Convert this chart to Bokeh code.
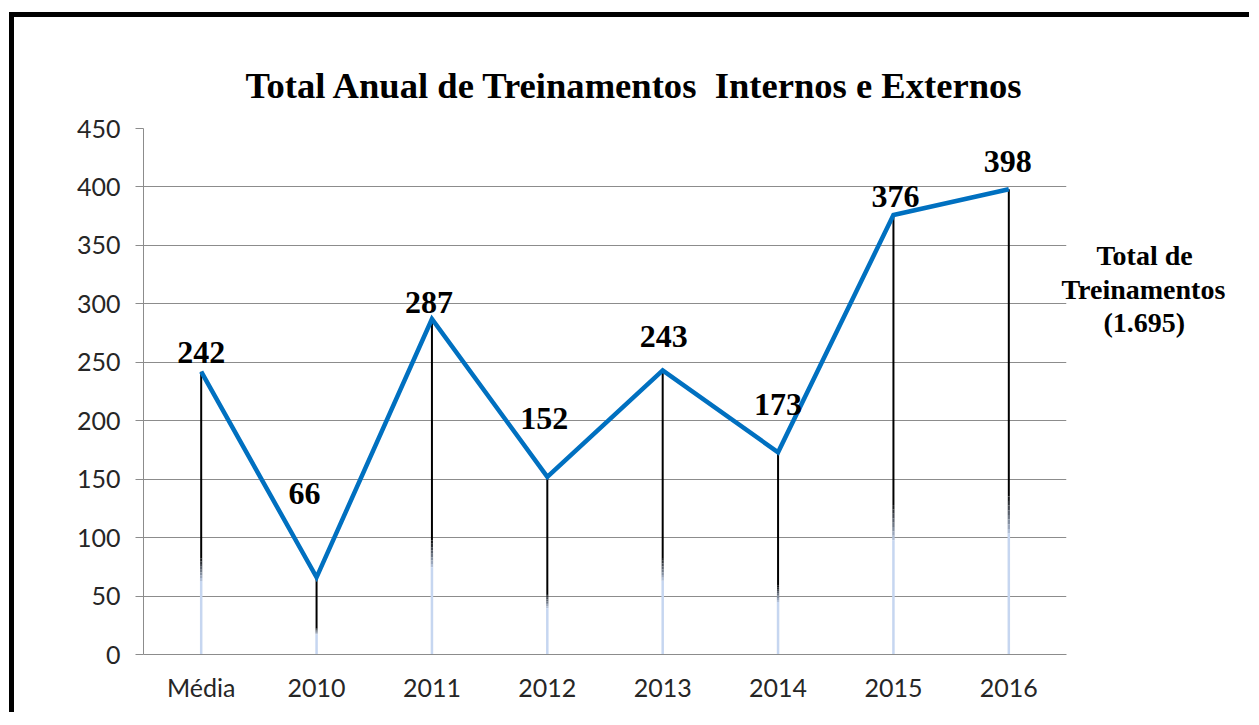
from bokeh.plotting import figure
from bokeh.models import ColumnDataSource, FixedTicker, Range1d, Title, LinearAxis
from bokeh.core.properties import value
from bokeh.embed import file_html
from bokeh.resources import INLINE

# ---- data ----
categories = ["Média", "2010", "2011", "2012", "2013", "2014", "2015", "2016"]
values = [242, 66, 287, 152, 243, 173, 376, 398]
y_ticks = [0, 50, 100, 150, 200, 250, 300, 350, 400, 450]
title_text = "Total Anual de Treinamentos \u00a0Internos e Externos"
side_lines = ["Total de", "Treinamentos", "(1.695)"]
side_pad = [5, 0, 6]          # leading non-breaking spaces to centre each line
side_at = [341, 312, 284]     # vertical placement of each line (axis units)

# label placement (pixels): horizontal shift, height above the point
label_dx = [0, -12, -3, -3, 1, 0, 2, -1]
label_up = [19, 84, 17, 58, 34, 48, 18, 28]

SERIF = value("Liberation Serif")

p = figure(
    x_range=categories, y_range=Range1d(0, 450),
    width=1240, height=700,
    output_backend="svg", toolbar_location=None, title=None,
    min_border_left=129, min_border_right=188, min_border_top=111, min_border_bottom=63,
    styles={"border-left": "5px solid black", "border-top": "5px solid black",
            "margin-top": "12px", "margin-left": "9px"},
)
p.outline_line_color = None
p.background_fill_color = "white"
p.border_fill_color = "white"

# grid / axes
p.xgrid.visible = False
p.ygrid.grid_line_color = "#8c8c8c"
p.ygrid.grid_line_width = 1
p.yaxis.ticker = FixedTicker(ticks=y_ticks)
p.yaxis.axis_line_color = "#8c8c8c"
p.yaxis.major_tick_line_color = "#8c8c8c"
p.yaxis.major_tick_out = 8
p.yaxis.major_tick_in = 0
p.yaxis.minor_tick_line_color = None
p.yaxis.major_label_standoff = 15
p.yaxis.major_label_text_font = "Lato"
p.yaxis.major_label_text_font_size = "25px"
p.yaxis.major_label_text_color = "#262626"

p.xaxis.axis_line_color = "#8c8c8c"
p.xaxis.major_tick_line_color = None
p.xaxis.major_tick_out = 0
p.xaxis.major_tick_in = 0
p.xaxis.major_label_standoff = 17
p.xaxis.major_label_text_font = "Lato"
p.xaxis.major_label_text_font_size = "25px"
p.xaxis.major_label_text_color = "#262626"

# drop lines: black at top, fading to light blue near the bottom
def hex_mix(c1, c2, t):
    a = [int(c1[i:i + 2], 16) for i in (1, 3, 5)]
    b = [int(c2[i:i + 2], 16) for i in (1, 3, 5)]
    return "#%02x%02x%02x" % tuple(round(a[k] + (b[k] - a[k]) * t) for k in range(3))

BLACK, LIGHT = "#000000", "#c6d6f0"
fracs = [1.0] + [0.34 - 0.08 * k / 8 for k in range(9)] + [0.0]
xs, y0s, y1s, cols, ws = [], [], [], [], []
for c, v in zip(categories, values):
    for k in range(len(fracs) - 1):
        t = min(1.0, max(0.0, k / (len(fracs) - 2)))
        xs.append(c)
        y0s.append(v * fracs[k])
        y1s.append(v * fracs[k + 1])
        cols.append(hex_mix(BLACK, LIGHT, t))
        ws.append(2.0 + 0.5 * t)
p.segment(x0=xs, y0=y0s, x1=xs, y1=y1s, line_color=cols, line_width=ws)

# main line
p.line(x=categories, y=values, line_color="#0070c0", line_width=4.5, line_join="miter")

# point labels
src = ColumnDataSource(dict(
    x=categories, y=values, t=[str(v) for v in values],
    dx=label_dx, dy=[-u for u in label_up],
))
p.text(x="x", y="y", text="t", source=src, x_offset="dx", y_offset="dy",
       text_align="center", text_baseline="middle",
       text_font=SERIF, text_font_style="bold", text_font_size="32px", text_color="black")

# title
p.add_layout(Title(text=title_text, align="left", offset=102, standoff=45,
                   text_font="Liberation Serif", text_font_style="bold",
                   text_font_size="36.6px", text_color="black"), "above")

# side note, drawn as labels of an undecorated right-hand axis
side_axis = LinearAxis(
    ticker=FixedTicker(ticks=side_at),
    major_label_overrides={k: "\u00a0" * n + s for k, s, n in zip(side_at, side_lines, side_pad)},
    axis_line_color=None, major_tick_line_color=None, minor_tick_line_color=None,
    major_tick_out=0, major_tick_in=0, major_label_standoff=-5,
    major_label_text_font="Liberation Serif", major_label_text_font_style="bold",
    major_label_text_font_size="28px", major_label_text_color="black",
)
p.add_layout(side_axis, "right")

open("out.html", "w").write(file_html(p, INLINE))
